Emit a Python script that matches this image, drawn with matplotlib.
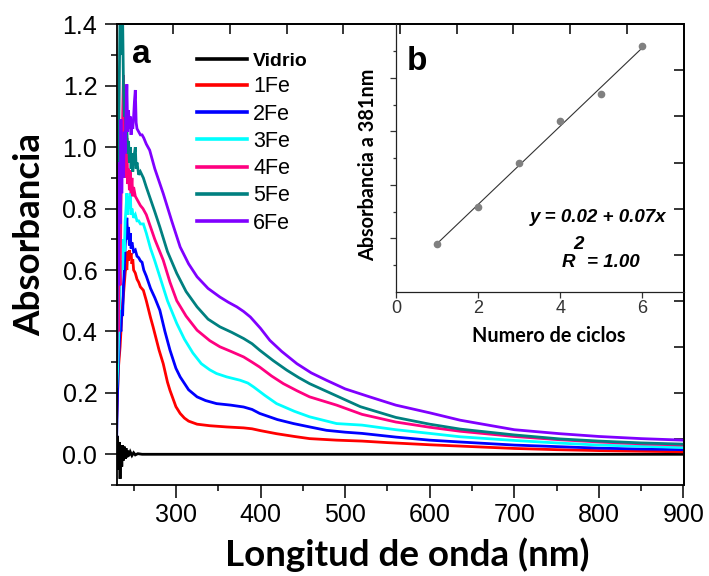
import numpy as np
import matplotlib
matplotlib.use("Agg")
import matplotlib.pyplot as plt

plt.rcParams['font.family'] = ['Liberation Sans', 'DejaVu Sans']

# ---------------- UV-Vis spectra ----------------
labels = ["Vidrio", "1Fe", "2Fe", "3Fe", "4Fe", "5Fe", "6Fe"]
colors = ["#000000", "#FF0000", "#0000FF", "#00FFFF", "#FF0080", "#008080", "#8000FF"]

wl_vidrio = [230, 231, 232, 233, 234, 235, 236, 237, 238, 239, 240, 241, 242, 243, 244,
             246, 248, 250, 252, 255, 260, 270, 300, 400, 500, 600, 700, 800, 900]
abs_vidrio = [0.00, 0.06, -0.05, 0.04, -0.08, 0.03, -0.04, 0.03, -0.02, 0.025, -0.015,
              0.02, -0.01, 0.012, -0.006, 0.008, -0.004, 0.005, -0.002, 0.002, 0.0,
              0.0, 0.0, 0.0, 0.0, 0.0, 0.0, 0.0, 0.0]

wl_1fe = [230, 232, 234, 236, 238, 240, 241, 242, 243, 244, 245, 246, 247, 248, 249, 250,
          252, 254, 256, 258, 261.5, 265, 270, 273, 280, 285, 290, 293, 300, 305, 310,
          315, 325, 340, 360, 380, 390, 400, 419, 440, 458, 490, 520, 550, 600, 650,
          700, 750, 800, 850, 900]
abs_1fe = [0.12, 0.28, 0.35, 0.45, 0.52, 0.59, 0.62, 0.60, 0.66, 0.63, 0.665, 0.64, 0.655,
           0.62, 0.635, 0.60, 0.59, 0.57, 0.56, 0.545, 0.534, 0.50, 0.445, 0.415, 0.34,
           0.295, 0.235, 0.208, 0.155, 0.133, 0.118, 0.108, 0.098, 0.093, 0.089, 0.086,
           0.083, 0.077, 0.067, 0.058, 0.051, 0.046, 0.043, 0.038, 0.031, 0.025, 0.019,
           0.015, 0.012, 0.010, 0.008]

wl_2fe = [230, 231, 232, 233, 234, 235, 236, 237, 238, 239, 240, 241, 242, 243, 244, 245,
          246, 247, 248, 250, 252, 254, 256, 258, 260, 262, 265, 270, 275, 281, 287, 293,
          300, 305, 315, 325, 335, 348, 365, 380, 390, 399, 420, 439, 460, 478, 500, 520,
          560, 600, 636, 700, 750, 800, 850, 900]
abs_2fe = [0.06, 0.20, 0.30, 0.35, 0.42, 0.40, 0.47, 0.45, 0.55, 0.60, 0.68, 0.72, 0.77,
           0.70, 0.74, 0.68, 0.72, 0.67, 0.69, 0.66, 0.665, 0.645, 0.64, 0.63, 0.625, 0.60,
           0.58, 0.54, 0.51, 0.469, 0.40, 0.339, 0.28, 0.252, 0.21, 0.187, 0.175, 0.165,
           0.160, 0.154, 0.146, 0.133, 0.113, 0.100, 0.088, 0.078, 0.072, 0.068, 0.056,
           0.046, 0.040, 0.030, 0.025, 0.020, 0.017, 0.015]

wl_3fe = [230, 231, 232, 233, 234, 235, 236, 237, 238, 239, 240, 241, 242, 243, 244, 245,
          246, 247, 248, 250, 252, 254, 256, 258, 261.5, 265, 270, 275, 281, 290, 301,
          310, 320, 330, 340, 348, 360, 376, 385, 392, 405, 419, 440, 458, 490, 520, 560,
          600, 636, 700, 750, 800, 850, 900]
abs_3fe = [0.22, 0.27, 0.35, 0.45, 0.55, 0.58, 0.63, 0.60, 0.70, 0.66, 0.76, 0.80, 0.85,
           0.78, 0.84, 0.80, 0.85, 0.78, 0.80, 0.77, 0.78, 0.76, 0.76, 0.75, 0.75, 0.72,
           0.67, 0.63, 0.578, 0.50, 0.426, 0.375, 0.33, 0.295, 0.275, 0.263, 0.252, 0.241,
           0.232, 0.219, 0.192, 0.165, 0.140, 0.122, 0.100, 0.095, 0.080, 0.068, 0.057,
           0.045, 0.037, 0.030, 0.026, 0.022]

wl_4fe = [230, 231, 232, 233, 234, 235, 236, 237, 238, 239, 240, 241, 242, 243, 244, 245,
          246, 247, 248, 249, 250, 252, 254, 256, 258, 261, 265, 270, 275, 285, 293, 301,
          312, 325, 340, 352, 365, 380, 390, 399, 413, 427, 443, 458, 490, 520, 560, 600,
          636, 700, 750, 800, 850, 900]
abs_4fe = [0.30, 0.50, 0.40, 0.65, 0.55, 0.80, 0.95, 1.10, 1.235, 0.95, 1.05, 0.90, 1.03,
           0.88, 0.93, 0.86, 0.925, 0.85, 0.90, 0.84, 0.87, 0.84, 0.83, 0.82, 0.81, 0.80,
           0.78, 0.74, 0.70, 0.632, 0.56, 0.50, 0.45, 0.404, 0.37, 0.35, 0.335, 0.317,
           0.30, 0.284, 0.255, 0.23, 0.207, 0.187, 0.16, 0.13, 0.105, 0.088, 0.075, 0.058,
           0.048, 0.040, 0.034, 0.030]

wl_5fe = [230, 231, 232, 233, 234, 235, 236, 237, 238, 239, 240, 241, 242, 243, 244, 245,
          246, 247, 248, 249, 250, 252, 253, 254, 256, 258, 261.5, 265, 270, 275, 281, 290,
          301, 312, 325, 338, 352, 366, 380, 390, 399, 415, 431, 445, 458, 490, 518, 560,
          600, 636, 700, 754, 800, 850, 900]
abs_5fe = [0.35, 0.65, 0.90, 1.20, 1.45, 1.50, 1.30, 1.42, 1.20, 1.10, 1.15, 1.05, 1.055,
           0.98, 1.02, 0.95, 1.00, 0.93, 0.98, 0.92, 0.96, 1.00, 0.93, 0.95, 0.91, 0.92,
           0.90, 0.87, 0.83, 0.79, 0.74, 0.66, 0.589, 0.53, 0.48, 0.44, 0.415, 0.397, 0.377,
           0.36, 0.339, 0.305, 0.274, 0.25, 0.23, 0.19, 0.155, 0.12, 0.098, 0.082, 0.063,
           0.050, 0.043, 0.037, 0.033]

wl_6fe = [230, 231, 232, 233, 234, 235, 236, 237, 238, 239, 240, 241, 242, 243, 244, 245,
          246, 247, 248, 249, 250, 251, 252, 253, 254, 256, 258, 260, 262, 265, 269, 275,
          285, 295, 305, 315, 325, 338, 352, 362, 372, 380, 388, 400, 411, 425, 443, 460,
          478, 500, 529, 560, 600, 636, 700, 754, 800, 850, 900]
abs_6fe = [0.30, 0.70, 0.55, 0.95, 0.75, 1.09, 0.85, 1.00, 0.90, 1.05, 0.98, 1.10, 1.205,
           1.05, 1.12, 1.06, 1.10, 1.04, 1.08, 1.06, 1.10, 1.15, 1.186, 1.08, 1.06, 1.05,
           1.04, 1.04, 1.03, 1.01, 0.99, 0.93, 0.849, 0.76, 0.675, 0.62, 0.578, 0.54, 0.512,
           0.495, 0.48, 0.465, 0.447, 0.41, 0.371, 0.335, 0.295, 0.265, 0.241, 0.213, 0.187,
           0.160, 0.135, 0.111, 0.080, 0.067, 0.058, 0.051, 0.046]

spectra = [(wl_vidrio, abs_vidrio), (wl_1fe, abs_1fe), (wl_2fe, abs_2fe), (wl_3fe, abs_3fe),
           (wl_4fe, abs_4fe), (wl_5fe, abs_5fe), (wl_6fe, abs_6fe)]

# ---------------- absorbance at 381 nm vs. deposition cycles ----------------
ciclos = [1, 2, 3, 4, 5, 6]
abs_381 = [0.090, 0.159, 0.241, 0.320, 0.370, 0.460]

W, H = 709, 576
fig = plt.figure(figsize=(W / 100, H / 100), dpi=100)

# main axes box in pixels
L, R, T, B = 116.7, 683.5, 24.3, 485.0
ax = fig.add_axes([L / W, 1 - B / H, (R - L) / W, (B - T) / H])

for (wl, a), lab, c in zip(spectra, labels, colors):
    ax.plot(wl, a, color=c, lw=2.0, label=lab, solid_joinstyle='miter')

ax.set_xlim(230, 900)
ax.set_ylim(-0.1, 1.4)
ax.set_xticks(np.arange(300, 901, 100))
ax.set_xticks(np.arange(250, 900, 50), minor=True)
ax.set_yticks(np.round(np.arange(0, 1.41, 0.2), 1))
ax.set_yticks(np.round(np.arange(-0.1, 1.41, 0.1), 1), minor=True)
ax.yaxis.set_major_formatter(matplotlib.ticker.FormatStrFormatter('%.1f'))
ax.tick_params(which='major', direction='out', length=9, width=1.1, labelsize=18, pad=4)
ax.tick_params(which='minor', direction='out', length=4, width=1.1)
ax.tick_params(axis='y', pad=5)
for s in ax.spines.values():
    s.set_linewidth(1.3)

# top and right axes with their own divisions
top = ax.secondary_xaxis('top')
top.set_xticks(np.linspace(230, 900, 11)[1:-1])
top.tick_params(direction='in', length=7, width=1.1, labeltop=False)
top.xaxis.set_minor_locator(matplotlib.ticker.NullLocator())
rgt = ax.secondary_yaxis('right')
rgt.set_yticks(np.linspace(-0.1, 1.4, 11)[1:-1])
rgt.tick_params(direction='in', length=7, width=1.1, labelright=False)
rgt.yaxis.set_minor_locator(matplotlib.ticker.NullLocator())
for sa in (top, rgt):
    for s in sa.spines.values():
        s.set_linewidth(1.3)

ax.set_xlabel("Longitud de onda (nm)", family=['Lato', 'DejaVu Sans'], fontweight='bold',
              fontsize=26.5, va='center')
ax.xaxis.set_label_coords((407 - L) / (R - L), (B - 555) / (B - T))
ax.set_ylabel("Absorbancia", family=['Lato', 'DejaVu Sans'], fontweight='bold',
              fontsize=26.5, va='center')
ax.yaxis.set_label_coords((30 - L) / (R - L), (B - 235) / (B - T))

ax.text((141 - L) / (R - L), (B - 55) / (B - T), "a", transform=ax.transAxes,
        fontsize=24, fontweight='bold', ha='center', va='center')

leg = ax.legend(loc='upper left', bbox_to_anchor=((197 - L) / (R - L), (B - 51) / (B - T)),
                frameon=False, fontsize=15.5, handlelength=2.33, handletextpad=0.28,
                labelspacing=0.29, borderpad=0, borderaxespad=0)
for line in leg.get_lines():
    line.set_linewidth(2.6)
leg.get_texts()[0].set_fontweight('bold')
leg.get_texts()[0].set_fontsize(14)

# ---------------- inset ----------------
iL, iB = 396.0, 292.0
ins = fig.add_axes([iL / W, 1 - iB / H, (R - iL) / W, (iB - T) / H])
ins.patch.set_alpha(0)
ins.set_xlim(0, 7)
ins.set_ylim(0, 0.5)
ins.spines['top'].set_visible(False)
ins.spines['right'].set_visible(False)
for s in ('left', 'bottom'):
    ins.spines[s].set_linewidth(0.9)
    ins.spines[s].set_color('#222222')

ins.plot(ciclos, abs_381, 'o', color='#808080', ms=4.5, zorder=3)
slope, intercept = np.polyfit(ciclos, abs_381, 1)
xf = np.array([min(ciclos), max(ciclos)])
ins.plot(xf, intercept + slope * xf, color='#333333', lw=0.8, zorder=2)

ins.set_xticks([0, 2, 4, 6])
ins.set_yticks([0.1, 0.2, 0.3, 0.4])
ins.set_yticks(np.arange(0.05, 0.5, 0.1), minor=True)
ins.tick_params(axis='x', direction='out', length=4, width=0.9, labelsize=13,
                labelcolor='#333333', color='#333333', pad=2)
ins.tick_params(axis='y', which='both', direction='out', width=0.9, labelleft=False,
                color='#333333')
ins.tick_params(axis='y', which='major', length=4)
ins.tick_params(axis='y', which='minor', length=2)

ins.set_xlabel("Numero de ciclos", family=['Lato', 'DejaVu Sans'], fontweight='bold',
               fontsize=14.3, va='center')
ins.xaxis.set_label_coords((549 - iL) / (R - iL), (iB - 336) / (iB - T))
ins.set_ylabel("Absorbancia a 381nm", family=['Lato', 'DejaVu Sans'], fontweight='bold',
               fontsize=14.3, va='center')
ins.yaxis.set_label_coords((368 - iL) / (R - iL), (iB - 165) / (iB - T))

ins.text(0.51, 0.43, "b", fontsize=24, fontweight='bold', ha='center', va='center')
ins.text(3.26, 0.131, "y = 0.02 + 0.07x", fontsize=13.5, fontweight='bold',
         fontstyle='italic', ha='left', va='baseline')
ins.text(4.03, 0.0473, "R", fontsize=13.5, fontweight='bold', fontstyle='italic',
         ha='left', va='baseline')
ins.text(4.31, 0.0805, "2", fontsize=13.5, fontweight='bold', fontstyle='italic',
         ha='left', va='baseline')
ins.text(4.65, 0.0473, "= 1.00", fontsize=13.5, fontweight='bold', fontstyle='italic',
         ha='left', va='baseline')

fig.savefig("out.png", dpi=100)
